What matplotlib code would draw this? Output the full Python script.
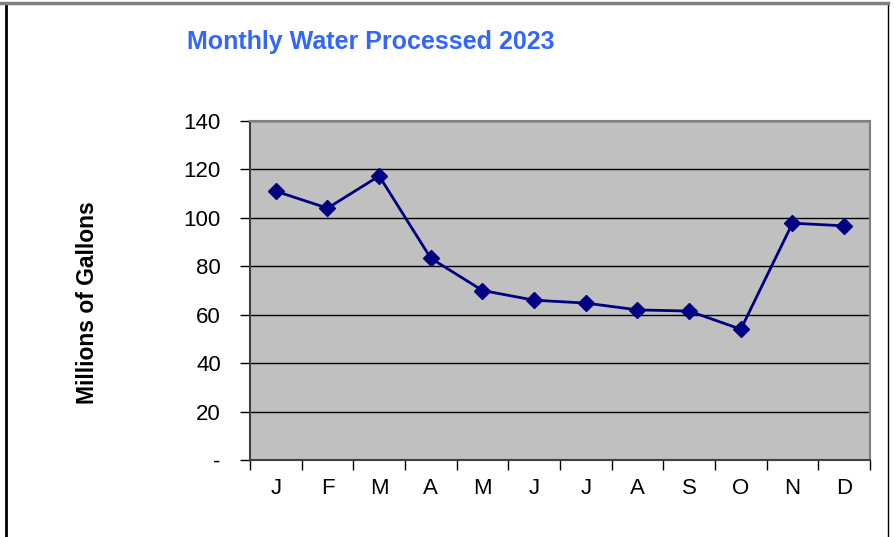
import matplotlib
matplotlib.use("Agg")
import matplotlib.pyplot as plt
from matplotlib.lines import Line2D

months = ["J", "F", "M", "A", "M", "J", "J", "A", "S", "O", "N", "D"]
values = [111, 104, 117.3, 83.3, 70, 66, 64.8, 62, 61.5, 54, 97.8, 96.7]
yticks = [0, 20, 40, 60, 80, 100, 120, 140]
ytick_labels = ["-", "20", "40", "60", "80", "100", "120", "140"]

plt.rcParams['font.family'] = ['Liberation Sans', 'DejaVu Sans']

fig = plt.figure(figsize=(8.95, 5.37), dpi=100)
ax = fig.add_axes([250/895, 1-460/537, (870-250)/895, (460-121)/537])
ax.set_facecolor("#C0C0C0")

x = list(range(len(months)))
ax.plot(x, values, color="#000080", lw=2, marker="D", ms=8, zorder=3)

ax.set_xlim(-0.5, len(months)-0.5)
ax.set_ylim(0, 140)
ax.set_yticks(yticks)
ax.set_yticklabels(ytick_labels, fontsize=16)
ax.set_xticks(x)
ax.set_xticklabels(months, fontsize=16)
ax.set_xticks([i-0.5 for i in range(len(months)+1)], minor=True)
ax.tick_params(axis='x', which='major', length=0, pad=13)
ax.tick_params(axis='x', which='minor', length=7, width=1, color="black", direction='out')
ax.tick_params(axis='y', length=7, width=1, color="black", direction='out', pad=14)

ax.grid(axis='y', color="black", lw=1)
ax.set_axisbelow(True)
for side in ["left", "bottom"]:
    ax.spines[side].set_color("#404040")
    ax.spines[side].set_linewidth(1.5)
for side in ["right", "top"]:
    ax.spines[side].set_color("#808080")
    ax.spines[side].set_linewidth(1.5)

fig.text(88/895, 1-303/537, "Millions of Gallons", rotation=90, ha='center', va='center',
         fontsize=16.5, fontweight='bold')

fig.text(187/895, 1-42/537, "Monthly Water Processed 2023", ha='left', va='center',
         fontsize=18, fontweight='bold', color="#3366FF")

# outer frame
fig.add_artist(Line2D([6/895, 6/895], [0, 1-3/537], transform=fig.transFigure, color="black", lw=2))
fig.add_artist(Line2D([888/895, 888/895], [0, 1-3/537], transform=fig.transFigure, color="black", lw=1))
fig.add_artist(Line2D([0, 888/895], [1-2.5/537, 1-2.5/537], transform=fig.transFigure, color="#808080", lw=2.5))

fig.savefig("out.png", dpi=100)
